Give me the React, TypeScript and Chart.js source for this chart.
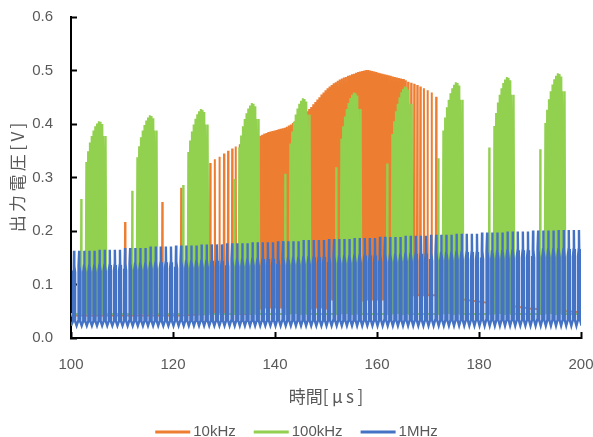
import React, { useEffect, useRef } from "react";
import { Chart, registerables } from "chart.js";

Chart.register(...registerables);

// ---------- axes / labels ----------
const xMin = 100;
const xMax = 200;
const xStep = 20;
const yMin = 0;
const yMax = 0.6;
const yStep = 0.1;
const xTitle = "時間[\u2009μ\u2009s\u2009]";
const yTitle = "出\u2009力\u2009電\u2009圧\u2009[\u2009V\u2009]";
const seriesNames = ["10kHz", "100kHz", "1MHz"];
const seriesColors = ["#ED7D31", "#92D050", "#4472C4"];

// ---------- 10kHz (orange) ----------
const orangeSpikeT = [110.6, 117.9, 121.6, 127.3, 128.2, 129.1, 130.0, 130.8, 131.6, 132.3, 133.1, 133.9, 134.7, 135.5, 136.3];
const orangeSpikeV = [0.217, 0.254, 0.281, 0.327, 0.334, 0.339, 0.345, 0.35, 0.354, 0.358, 0.362, 0.365, 0.368, 0.371, 0.374];
const orangeDenseStart = 137.1;
const orangeDenseStep = 0.4;
const orangeDenseV = [
  0.378, 0.38, 0.382, 0.383, 0.385, 0.386, 0.387, 0.388, 0.389, 0.39,
  0.391, 0.392, 0.393, 0.395, 0.397, 0.399, 0.402, 0.405, 0.408, 0.411,
  0.414, 0.417, 0.421, 0.424, 0.428, 0.432, 0.437, 0.441, 0.446, 0.45,
  0.455, 0.459, 0.463, 0.467, 0.47, 0.473, 0.476, 0.478, 0.481, 0.483,
  0.485, 0.487, 0.488, 0.49, 0.491, 0.493, 0.494, 0.496, 0.497, 0.498,
  0.499, 0.5, 0.501, 0.501, 0.5, 0.499, 0.498, 0.497, 0.496, 0.495,
  0.494, 0.493, 0.492, 0.491, 0.49, 0.489, 0.488, 0.487, 0.486, 0.485,
  0.484, 0.482,
];
const orangeTrailT = [166.1, 166.7, 167.3, 167.9, 168.5, 169.2, 169.9, 170.7, 171.6];
const orangeTrailV = [0.479, 0.477, 0.475, 0.473, 0.47, 0.467, 0.463, 0.459, 0.451];
const orangeLowT = [100, 125, 135, 150, 165];
const orangeLowV = [0.042, 0.045, 0.055, 0.07, 0.08];
const orangeTailT = [172, 180, 190, 200];
const orangeTailV = [0.078, 0.068, 0.055, 0.048];

// ---------- 100kHz (green) ----------
const greenBurstStart = [100, 110, 120, 130, 140, 150, 160, 170, 180, 190];
const greenPeak = [0.406, 0.417, 0.429, 0.44, 0.449, 0.46, 0.471, 0.479, 0.489, 0.496];
const greenLeadSpike = [0.26, 0.275, 0.286, 0.297, 0.307, 0.319, 0.326, 0.336, 0.356, 0.353];
const greenLeadOffset = 2.0;
const greenShapeOffset = [3.0, 3.35, 3.7, 4.05, 4.4, 4.75, 5.1, 5.45, 5.8, 6.15, 6.45, 6.8];
const greenShapeLevel = [0.81, 0.86, 0.9, 0.93, 0.955, 0.975, 0.988, 0.998, 0.995, 0.985, 0.93, 0.93];
const greenLow = 0.045;

// ---------- 1MHz (blue) ----------
const blueFirstCycle = 100.1;
const bluePeriod = 1;
const blueCycleCount = 100;
const blueBlockPeaks = [
  0.163, 0.165, 0.168, 0.171, 0.173, 0.175, 0.177, 0.179, 0.181, 0.183,
  0.185, 0.187, 0.189, 0.191, 0.193, 0.195, 0.197, 0.199, 0.201, 0.202,
];
const blueTrough = 0.023;
const blueShapePhase = [0, 0.29, 0.31, 0.45, 0.5, 0.55, 0.69, 0.71];
const blueShapeLevel = [0, 0.06, 0.72, 0.8, 1, 0.8, 0.72, 0.06];

type P = { x: number; y: number };

function stepLookup(ts: number[], vs: number[], t: number) {
  let v = vs[0];
  for (let i = 0; i < ts.length; i++) if (ts[i] <= t) v = vs[i];
  return v;
}

function buildOrange(): P[] {
  const pts: P[] = [{ x: xMin, y: orangeLowV[0] }];
  const spike = (t: number, v: number, half: number) => {
    const lo = stepLookup(orangeLowT, orangeLowV, t);
    pts.push({ x: t - half, y: lo }, { x: t, y: v }, { x: t + half, y: lo });
  };
  orangeSpikeT.forEach((t, i) => spike(t, orangeSpikeV[i], 0.08));
  orangeDenseV.forEach((v, i) => spike(orangeDenseStart + i * orangeDenseStep, v, 0.15));
  orangeTrailT.forEach((t, i) => spike(t, orangeTrailV[i], 0.08));
  orangeTailT.forEach((t, i) => pts.push({ x: t, y: orangeTailV[i] }));
  return pts;
}

function buildGreen(): P[] {
  const pts: P[] = [{ x: xMin, y: greenLow }];
  const spike = (t: number, v: number, half: number) => {
    pts.push({ x: t - half, y: greenLow }, { x: t, y: v }, { x: t + half, y: greenLow });
  };
  greenBurstStart.forEach((b, i) => {
    spike(b + greenLeadOffset, greenLeadSpike[i], 0.08);
    greenShapeOffset.forEach((o, j) => spike(b + o, greenPeak[i] * greenShapeLevel[j], 0.15));
  });
  pts.push({ x: xMax, y: greenLow });
  return pts;
}

function buildBlue(): P[] {
  const pts: P[] = [{ x: xMin, y: blueTrough }];
  for (let k = 0; k < blueCycleCount; k++) {
    const t0 = blueFirstCycle + k * bluePeriod;
    const block = Math.min(Math.floor((t0 - xMin) / 5), blueBlockPeaks.length - 1);
    const peak = blueBlockPeaks[block];
    blueShapePhase.forEach((p, j) => {
      pts.push({ x: t0 + p * bluePeriod, y: blueTrough + (peak - blueTrough) * blueShapeLevel[j] });
    });
  }
  pts.push({ x: blueFirstCycle + blueCycleCount * bluePeriod, y: blueTrough });
  return pts;
}

const tickFamily = "'Liberation Sans Narrow', 'Arial Narrow', 'Liberation Sans', sans-serif";
const tickSize = 15;
const cjkFamily = "'Noto Sans CJK JP', 'Noto Sans', sans-serif";
const textColor = "#595959";

const legendPlugin = {
  id: "bottomLegend",
  afterDraw(chart: any) {
    const ctx = chart.ctx as CanvasRenderingContext2D;
    ctx.save();
    ctx.font = `${tickSize}px ${tickFamily}`;
    const lineLen = 35;
    const gapText = 3;
    const gapItem = 18;
    const widths = seriesNames.map((n) => lineLen + gapText + ctx.measureText(n).width);
    const total = widths.reduce((a, b) => a + b, 0) + gapItem * (widths.length - 1);
    let x = (chart.width - total) / 2;
    const y = chart.height - 5;
    seriesNames.forEach((n, i) => {
      ctx.strokeStyle = seriesColors[i];
      ctx.lineWidth = 3;
      ctx.beginPath();
      ctx.moveTo(x, y);
      ctx.lineTo(x + lineLen, y);
      ctx.stroke();
      ctx.fillStyle = textColor;
      ctx.textBaseline = "middle";
      ctx.textAlign = "left";
      ctx.fillText(n, x + lineLen + gapText, y);
      x += widths[i] + gapItem;
    });
    ctx.restore();
  },
};

export default function App() {
  const ref = useRef<HTMLCanvasElement>(null);
  useEffect(() => {
    document.body.style.margin = "0";
    const builders = [buildOrange, buildGreen, buildBlue];
    const widthsL = [2, 2, 2.4];
    const chart = new Chart(ref.current!, {
      type: "line",
      data: {
        datasets: seriesNames.map((name, i) => ({
          label: name,
          data: builders[i](),
          borderColor: seriesColors[i],
          backgroundColor: seriesColors[i],
          borderWidth: widthsL[i],
          pointRadius: 0,
          tension: 0,
          fill: false,
          order: seriesNames.length - i,
          parsing: false,
          normalized: true,
        })),
      } as any,
      options: {
        responsive: false,
        animation: false,
        devicePixelRatio: 1,
        events: [],
        layout: { padding: { top: 17, right: 12, bottom: 0, left: 0 } },
        plugins: {
          legend: { display: false },
          tooltip: { enabled: false },
        },
        scales: {
          x: {
            type: "linear",
            min: xMin,
            max: xMax,
            ticks: {
              stepSize: xStep,
              color: textColor,
              font: { family: tickFamily, size: tickSize },
              padding: 24,
              maxRotation: 0,
            },
            grid: {
              display: true,
              drawOnChartArea: false,
              drawTicks: true,
              tickLength: -6,
              tickColor: "#000",
              tickWidth: 2,
            },
            border: { display: true, color: "#000", width: 2 },
            title: {
              display: true,
              text: xTitle,
              color: textColor,
              font: { family: cjkFamily, size: 17 },
              padding: { top: 0, bottom: 30 },
            },
            afterFit: (s: any) => {
              s.height = 99;
              s.paddingLeft = 0;
              s.paddingRight = 0;
            },
          },
          y: {
            type: "linear",
            min: yMin,
            max: yMax,
            ticks: {
              stepSize: yStep,
              color: textColor,
              font: { family: tickFamily, size: tickSize },
              padding: 24,
              callback: (v: any) => Number(v).toFixed(1),
            },
            grid: {
              display: true,
              drawOnChartArea: false,
              drawTicks: true,
              tickLength: -6,
              tickColor: "#000",
              tickWidth: 2,
            },
            border: { display: true, color: "#000", width: 2 },
            title: {
              display: true,
              text: yTitle,
              color: textColor,
              font: { family: cjkFamily, size: 17 },
              padding: { top: 7, bottom: 0 },
            },
            afterFit: (s: any) => {
              s.width = 71;
              s.paddingTop = 0;
              s.paddingBottom = 0;
            },
          },
        },
      } as any,
      plugins: [legendPlugin],
    });
    return () => chart.destroy();
  }, []);
  return (
    <div style={{ width: 593, height: 437 }}>
      <canvas ref={ref} width={593} height={437} style={{ display: "block" }} />
    </div>
  );
}
